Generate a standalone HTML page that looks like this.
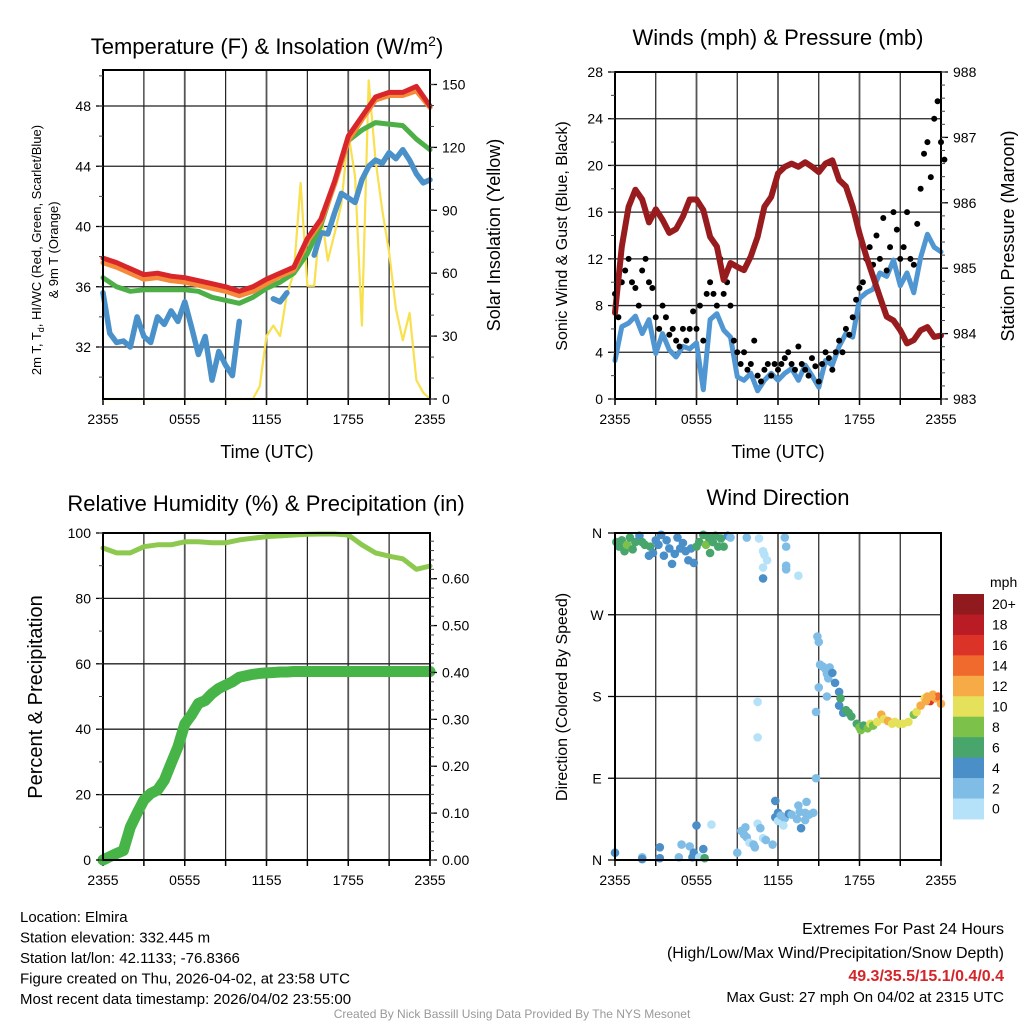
<!DOCTYPE html>
<html><head><meta charset="utf-8"><style>
html,body{margin:0;padding:0;background:#fff;}
svg{display:block;font-family:"Liberation Sans",Arial,sans-serif;}
</style></head><body>
<svg id="c" width="1024" height="1024" viewBox="0 0 1024 1024"></svg>
<script>
// ---------- DATA ----------
const hourTimes = [0,1,2,3,4,5,6,7,8,9,10,11,12,13,14,15,16,17,18,19,20,21,22,23,24];
const halfTimes = [0,0.5,1,1.5,2,2.5,3,3.5,4,4.5,5,5.5,6,6.5,7,7.5,8,8.5,9,9.5,10,10.5,11,11.5,12,12.5,13,13.5,14,14.5,15,15.5,16,16.5,17,17.5,18,18.5,19,19.5,20,20.5,21,21.5,22,22.5,23,23.5,24];
const timeTickLabels = ["2355","0555","1155","1755","2355"];
const tempTicks = [32,36,40,44,48];
const insolTicks = [0,30,60,90,120,150];
const tempRed = [37.9,37.6,37.2,36.8,36.9,36.7,36.6,36.4,36.2,36.0,35.7,36.0,36.5,36.9,37.3,39.2,40.5,43.0,46.0,47.3,48.6,48.9,48.9,49.3,48.0];
const tempOrange = [37.6,37.3,36.9,36.5,36.6,36.4,36.3,36.1,35.9,35.7,35.4,35.7,36.2,36.7,37.1,39.0,40.3,42.8,45.7,47.1,48.4,48.7,48.7,49.0,47.9];
const tempGreen = [36.6,36.0,35.7,35.8,35.8,35.8,35.8,35.7,35.3,35.1,34.9,35.3,35.9,36.3,36.9,38.2,40.1,42.9,45.7,46.4,46.9,46.8,46.7,45.8,45.1];
const tempBlue = [35.6,32.9,32.3,32.4,32.0,34.0,32.7,32.3,34.0,33.5,34.4,33.7,35.0,33.3,31.5,32.7,29.8,31.7,30.8,30.1,33.7,null,33.7,null,null,35.2,35.0,35.6,null,35.8,null,38.1,39.6,39.5,40.9,42.2,41.9,41.6,43.1,44.0,44.4,44.2,44.9,44.5,45.1,44.4,43.5,42.9,43.1];
const insolation = [0,0,0,0,0,0,0,0,0,0,0,0,0,0,0,0,0,0,0,0,0,0,0,6,30,35,30,50,60,103,54,54,89,66,79,93,127,106,35,152,114,90,70,43,28,41,9,3,0];
const windTicks = [0,4,8,12,16,20,24,28];
const presTicks = [983,984,985,986,987,988];
const pressure = [984.32,985.33,985.94,986.2,986.05,985.7,985.9,985.74,985.54,985.6,985.79,986.05,986.05,985.89,985.48,985.33,984.82,985.08,985.02,984.97,985.18,985.48,985.94,986.09,986.45,986.55,986.6,986.55,986.62,986.55,986.47,986.6,986.65,986.35,986.25,985.94,985.53,985.18,984.87,984.56,984.26,984.2,984.05,983.85,983.9,984.05,984.1,983.95,983.97];
const windSpeed = [3.3,6.2,6.5,7.1,5.6,6.8,3.9,5.6,4.2,3.6,4.5,4.3,4.8,0.8,6.8,7.3,5.9,5.3,1.9,1.6,2.2,0.7,1.6,2.2,1.6,2.2,2.6,1.6,2.9,2.0,1.0,3.3,2.9,4.5,5.6,5.3,8.6,9.1,9.4,10.8,10.5,11.9,9.7,10.8,9.1,12.1,14.1,13.0,12.6];
const gust = [9,7,10,11,12,10,9.5,8,11,12,10,9.5,7,6,8,7,5.5,6,5,4.5,6,5,6,7.5,6,8,5,9,10,9,8,12,9,10,8,5,4,3,4,2.5,3,5,2,1.5,2.5,3,2,3,2.5,3,3.5,4,3,2.5,4.5,3,2.5,2,3.5,2.8,1.5,3,4,3.5,2.5,4,5,4,6,5.5,7,8.5,9.5,10,12,13,11.5,14,12,15.5,11,13,16,14.5,12,13,16,12,11.5,15,18,21,22,19,24,25.5,22,20.5];
const rhTicks = [0,20,40,60,80,100];
const precipTicks = [0,0.1,0.2,0.3,0.4,0.5,0.6];
const rh = [95.4,93.9,93.9,95.8,96.4,96.4,97.3,97.3,97.0,97.0,97.9,98.4,98.9,99.1,99.4,99.6,99.7,99.7,99.4,96.4,93.9,92.9,92.1,88.9,89.9];
const precipHalf = [0,0.007,0.014,0.02,0.07,0.10,0.128,0.142,0.149,0.17,0.206,0.241,0.29,0.31,0.334,0.34,0.355,0.366,0.373,0.38,0.39,0.393,0.396,0.398,0.399,0.40,0.401,0.401,0.402,0.402,0.402,0.402,0.402,0.402,0.402,0.402,0.402,0.402,0.402,0.402,0.402,0.402,0.402,0.402,0.402,0.402,0.402,0.402,0.402];
const dirLabels = ["N","E","S","W","N"];
const dirTime = [0.1,0.3,0.5,0.7,0.9,1.1,1.3,1.5,1.8,2.0,2.2,2.5,2.6,2.8,3.0,3.2,3.4,3.6,3.8,4.0,4.2,4.4,4.6,4.8,5.0,5.2,5.4,5.6,5.8,6.0,6.2,6.5,6.7,6.9,7.0,7.2,7.4,7.6,7.8,8.0,8.3,8.5,
 0,2,2,3.3,3.3,4.7,4.9,5.5,5.7,5.8,6.0,6.2,6.6,6.5,7.1,
 9.7,10.6,10.9,11.0,11.2,10.9,10.9,12.5,12.6,12.6,12.6,13.5,
 9.0,9.3,9.5,9.6,9.7,9.9,10.2,10.3,10.5,10.7,10.9,11.1,11.6,11.8,11.8,12.0,12.0,12.2,12.5,12.8,12.4,13.0,13.4,13.6,14.0,13.7,14.0,14.3,14.6,14.1,13.5,14.8,10.5,10.5,14.8,
 14.9,15.0,15.1,15.3,15.5,15.8,15.6,15.7,16.0,15.0,16.2,16.5,15.6,16.5,16.6,16.8,17.0,17.2,17.4,17.8,18.0,18.1,18.3,18.6,18.8,19.0,19.3,19.6,19.8,20.1,20.4,20.6,20.9,21.2,21.6,22.0,22.2,22.5,22.8,23.0,23.2,23.4,23.6,23.8,24.0,22.9,23.3];
const dirDeg = [350,345,352,340,347,355,342,350,357,350,347,335,345,338,352,347,358,335,352,343,326,337,355,343,349,340,330,343,327,345,350,358,347,355,338,350,357,345,354,345,357,355,
 8,3,1,2,14,3,17,15,3,8,38,3,2,12,39,
 355,354,340,336,330,322,310,355,345,324,320,313,
 8,32,28,36,25,19,17,14,40,35,24,22,17,65,47,52,43,49,46,51,38,50,45,53,52,35,44,50,52,64,60,90,174,135,163,
 246,240,215,213,210,212,205,200,206,190,195,185,180,170,178,162,165,162,158,150,146,143,148,145,150,148,152,160,155,153,150,152,150,150,152,160,163,170,178,180,175,182,178,180,172,175,180];
const dirSpeed = [6,7,6,7,9,6,7,6,5,7,6,5,7,5,4,5,5,4,5,4,5,4,4,4,5,5,4,5,4,6,7,6,9,7,6,6,7,6,7,6,5,3,
 4,3,4,4,4,3,3,3,4,4,4,1,7,4,1,
 2,1,1,1,1,1,4,2,2,2,2,1,
 3,3,3,3,2,1,2,3,1,2,1,2,3,4,4,4,1,2,3,4,1,3,2,3,2,4,3,3,3,2,2,2,1,1,2,
 2,2,2,3,2,3,3,2,4,3,4,4,3,4,6,4,6,7,6,7,8,8,7,9,10,8,10,12,10,12,11,10,11,10,10,8,10,12,11,12,16,12,12,14,13,12,13];
const speedLabels = ["20+","18","16","14","12","10","8","6","4","2","0"];
const speedColors = ["#b5e2f8","#80bde6","#4a8fc8","#48a56c","#7cc24a","#e6e15a","#f6ab46","#f0692d","#dc3328","#ba1c25","#911a1e"];

// ---------- HELPERS ----------
const svg = document.getElementById('c');
const NS = 'http://www.w3.org/2000/svg';
function mk(tag, attrs, parent){
  const e = document.createElementNS(NS, tag);
  for (const k in attrs) e.setAttribute(k, attrs[k]);
  (parent||svg).appendChild(e);
  return e;
}
function txt(x,y,s,size,anchor,parent,extra){
  const t = mk('text',Object.assign({x:x,y:y,'font-size':size,'text-anchor':anchor||'middle',fill:'#000'},extra||{}),parent);
  t.textContent = s;
  return t;
}
function axisX(p){ return t => p.x0 + (p.x1-p.x0)*t/24; }
function lin(d0,d1,r0,r1){ return v => r0 + (v-d0)*(r1-r0)/(d1-d0); }
function linePath(times, vals, fx, fy){
  let d='', pen=false;
  for (let i=0;i<times.length;i++){
    if (vals[i]===null){pen=false;continue;}
    d += (pen?'L':'M') + fx(times[i]).toFixed(1)+','+fy(vals[i]).toFixed(1);
    pen=true;
  }
  return d;
}
function frame(p, name){
  const g = mk('g',{});
  
  
  return g;
}
function drawGridX(p,g){
  const fx = axisX(p);
  for (let h=3; h<24; h+=3){
    const l = mk('line',{x1:fx(h),x2:fx(h),y1:p.y0,y2:p.y1,stroke:h%6===0?'#555':'#222','stroke-width':h%6===0?1.8:1.2},g);
    
    
  }
  for (let h=0; h<=24; h+=3){
    mk('line',{x1:fx(h),x2:fx(h),y1:p.y1,y2:p.y1+6,stroke:'#000','stroke-width':1.5},g);
  }
  timeTickLabels.forEach((s,i)=>{
    const t = txt(fx(i*6), p.y1+25, s, 14, 'middle', g);
    
    
  });
}
function drawGridY(p,g,vals,fy){
  vals.forEach(v=>{
    const y=fy(v);
    if (Math.abs(y-p.y0)>2 && Math.abs(y-p.y1)>2){
      const l = mk('line',{x1:p.x0,x2:p.x1,y1:y,y2:y,stroke:'#222','stroke-width':1.3},g);
      
      
    }
  });
}
function leftTicks(p,g,vals,fy,minor,fmt){
  vals.forEach(v=>{
    const y=fy(v);
    mk('line',{x1:p.x0-7,x2:p.x0,y1:y,y2:y,stroke:'#000','stroke-width':1.3},g);
    const t = txt(p.x0-12,y+5,fmt?fmt(v):String(v),14,'end',g);
    
    
  });
  minor.forEach(v=>{ const y=fy(v); if(y>=p.y0-1&&y<=p.y1+1) mk('line',{x1:p.x0-4,x2:p.x0,y1:y,y2:y,stroke:'#444','stroke-width':1},g);});
}
function rightTicks(p,g,vals,fy,minor,fmt){
  vals.forEach(v=>{
    const y=fy(v);
    mk('line',{x1:p.x1,x2:p.x1+7,y1:y,y2:y,stroke:'#000','stroke-width':1.3},g);
    const t = txt(p.x1+12,y+5,fmt?fmt(v):String(v),14,'start',g);
    
    
  });
  minor.forEach(v=>{ const y=fy(v); if(y>=p.y0-1&&y<=p.y1+1) mk('line',{x1:p.x1,x2:p.x1+4,y1:y,y2:y,stroke:'#444','stroke-width':1},g);});
}
function border(p,g){
  const r = mk('rect',{x:p.x0,y:p.y0,width:p.x1-p.x0,height:p.y1-p.y0,fill:'none',stroke:'#000','stroke-width':2},g);
  
  
}
function series(g,d,color,w,name){
  const e = mk('path',{d:d,fill:'none',stroke:color,'stroke-width':w,'stroke-linejoin':'round','stroke-linecap':'round'},g);
  
  
  return e;
}
function range(a,b,s){const r=[];for(let v=a;v<=b+1e-9;v+=s)r.push(+v.toFixed(4));return r;}

// ---------- PANEL 1 ----------
(function(){
  const p={x0:103,x1:430,y0:70,y1:399};
  const g=frame(p,'temperature-panel');
  const fx=axisX(p);
  const fy=lin(32,48,347,106);
  const fyR=lin(0,150,399,84.5);
  drawGridX(p,g);
  drawGridY(p,g,tempTicks,fy);
  series(g,linePath(halfTimes,insolation,fx,fyR),'#f8e04e',2.2,'insolation-line');
  series(g,linePath(halfTimes,tempBlue,fx,fy),'#4a90c9',5.5,'heat-index-windchill-line');
  series(g,linePath(hourTimes,tempGreen,fx,fy),'#4cb047',5,'dewpoint-line');
  series(g,linePath(hourTimes,tempOrange,fx,fy),'#f58a3a',5,'9m-temp-line');
  series(g,linePath(hourTimes,tempRed,fx,fy),'#d8262a',5,'2m-temp-line');
  border(p,g);
  leftTicks(p,g,tempTicks,fy,range(30,50,2));
  rightTicks(p,g,insolTicks,fyR,range(0,155,10));
  const t1=txt(267,54,'',22,'middle',g); t1.innerHTML='Temperature (F) &amp; Insolation (W/m<tspan dy="-8" font-size="14">2</tspan><tspan dy="8">)</tspan>';
   
  const xl=txt(267,458,'Time (UTC)',18,'middle',g);  
  const yl=txt(0,0,'',13,'middle',g,{transform:'translate(41,250) rotate(-90)'});
  yl.innerHTML='2m T, T<tspan dy="3" font-size="9">d</tspan><tspan dy="-3">, HI/WC (Red, Green, Scarlet/Blue)</tspan>';
   
  const yl2=txt(0,0,'& 9m T (Orange)',13,'middle',g,{transform:'translate(58,250) rotate(-90)'});
   
  const yr=txt(0,0,'Solar Insolation (Yellow)',18,'middle',g,{transform:'translate(500,235) rotate(-90)'});
   
})();

// ---------- PANEL 2 ----------
(function(){
  const p={x0:615,x1:941,y0:72,y1:399};
  const g=frame(p,'wind-pressure-panel');
  const fx=axisX(p);
  const fy=lin(0,28,399,72);
  const fyR=lin(983,988,399,72);
  drawGridX(p,g);
  drawGridY(p,g,windTicks,fy);
  series(g,linePath(halfTimes,windSpeed,fx,fy),'#4f96d2',5,'sonic-wind-line');
  gust.forEach((v,i)=>{
    const c=mk('circle',{cx:fx(i*0.25),cy:fy(v),r:3,fill:'#000'},g);
    
    
  });
  series(g,linePath(halfTimes,pressure,fx,fyR),'#981b1e',6,'pressure-line');
  border(p,g);
  leftTicks(p,g,windTicks,fy,range(0,28,2));
  rightTicks(p,g,presTicks,fyR,range(983,988,0.2));
  const t=txt(778,45,'Winds (mph) & Pressure (mb)',22,'middle',g);  
  const xl=txt(778,458,'Time (UTC)',18,'middle',g);  
  const yl=txt(0,0,'Sonic Wind & Gust (Blue, Black)',16,'middle',g,{transform:'translate(567,236) rotate(-90)'});
   
  const yr=txt(0,0,'Station Pressure (Maroon)',18,'middle',g,{transform:'translate(1014,236) rotate(-90)'});
   
})();

// ---------- PANEL 3 ----------
(function(){
  const p={x0:103,x1:430,y0:533,y1:860};
  const g=frame(p,'humidity-precip-panel');
  const fx=axisX(p);
  const fy=lin(0,100,860,533);
  const fyR=lin(0,0.6,860,578.7);
  drawGridX(p,g);
  drawGridY(p,g,rhTicks,fy);
  series(g,linePath(hourTimes,rh,fx,fy),'#8dc94f',5,'relative-humidity-line');
  series(g,linePath(halfTimes,precipHalf,fx,fyR),'#47b447',11,'precipitation-line');
  border(p,g);
  leftTicks(p,g,rhTicks,fy,range(0,100,10));
  rightTicks(p,g,precipTicks,fyR,range(0,0.69,0.02),v=>v.toFixed(2));
  const t=txt(266,511,'Relative Humidity (%) & Precipitation (in)',22,'middle',g);  
  const yl=txt(0,0,'Percent & Precipitation',20,'middle',g,{transform:'translate(42,697) rotate(-90)'});
   
})();

// ---------- PANEL 4 ----------
(function(){
  const p={x0:615,x1:941,y0:533,y1:860};
  const g=frame(p,'wind-direction-panel');
  const fx=axisX(p);
  const fy=lin(0,360,860,533);
  drawGridX(p,g);
  drawGridY(p,g,[0,90,180,270,360],fy);
  const binColor=s=>speedColors[Math.min(10,Math.floor(s/2))];
  dirTime.forEach((t,i)=>{
    const c=mk('circle',{cx:fx(t),cy:fy(dirDeg[i]),r:4.3,fill:binColor(dirSpeed[i])},g);
    
    
  });
  border(p,g);
  dirLabels.forEach((s,i)=>{
    const y=fy(i*90);
    mk('line',{x1:p.x0-7,x2:p.x0,y1:y,y2:y,stroke:'#000','stroke-width':1.3},g);
    const t=txt(p.x0-18,y+5,s,14,'middle',g);
     
  });
  const t=txt(778,505,'Wind Direction',22,'middle',g);  
  const yl=txt(0,0,'Direction (Colored By Speed)',16,'middle',g,{transform:'translate(567,697) rotate(-90)'});
   
  // colorbar
  const cb=mk('g',{},g);
   
  const top=594, bh=20.45;
  speedLabels.forEach((s,i)=>{
    const r=mk('rect',{x:953,y:top+i*bh,width:31,height:bh+0.5,fill:speedColors[10-i]},cb);
     
    const l=txt(992,top+i*bh+bh/2+5,s,14,'start',cb);
     
  });
  const u=txt(990,587,'mph',14,'start',cb);  
})();

// ---------- FOOTER TEXT ----------
(function(){
  const g=mk('g',{});
   
  ["Location: Elmira","Station elevation: 332.445 m","Station lat/lon: 42.1133; -76.8366","Figure created on Thu, 2026-04-02, at 23:58 UTC","Most recent data timestamp: 2026/04/02 23:55:00"].forEach((s,i)=>{
    const t=txt(20,922+i*20.5,s,15,'start',g);  
  });
  const g2=mk('g',{});
   
  const a=txt(1004,934,'Extremes For Past 24 Hours',16,'end',g2);  
  const b=txt(1004,958,'(High/Low/Max Wind/Precipitation/Snow Depth)',16,'end',g2);  
  const c=txt(1004,981,'49.3/35.5/15.1/0.4/0.4',16,'end',g2,{fill:'#d3262b','font-weight':'bold'});  
  const d=txt(1004,1002,'Max Gust: 27 mph On 04/02 at 2315 UTC',15,'end',g2);  
  const e=txt(512,1018,'Created By Nick Bassill Using Data Provided By The NYS Mesonet',12,'middle',null,{fill:'#999'});  
})();
</script>
</body></html>
